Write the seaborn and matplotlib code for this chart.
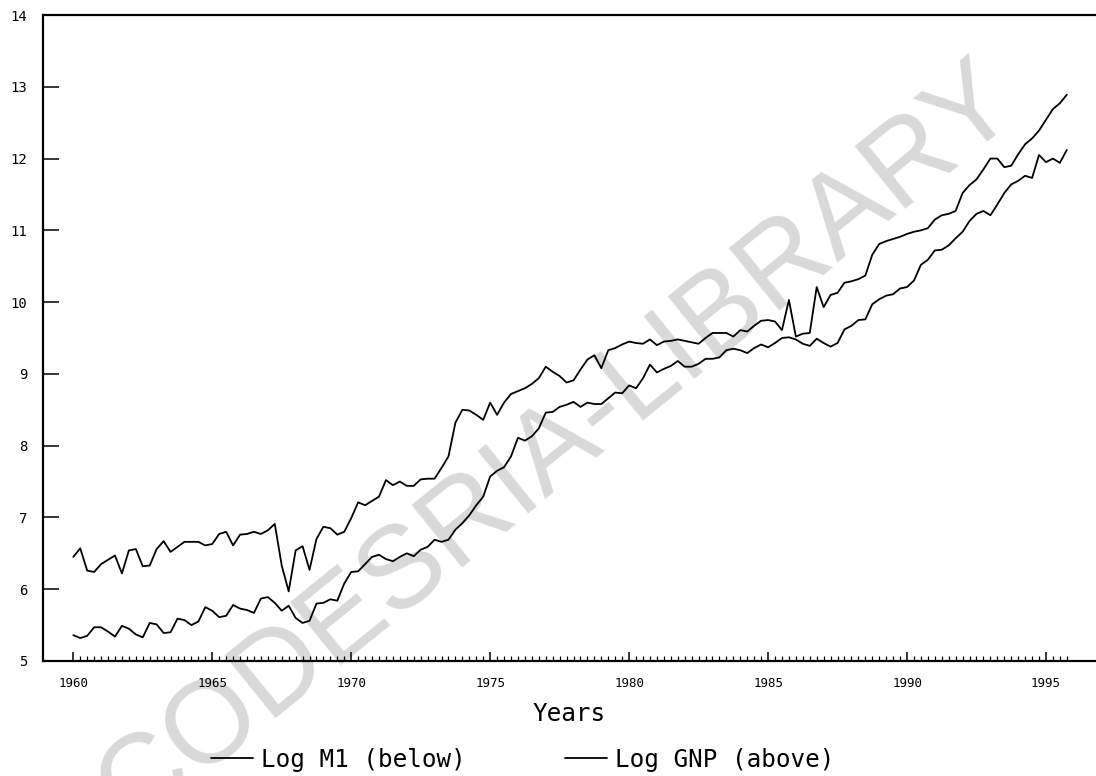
import numpy as np
import pandas as pd
import matplotlib
matplotlib.use("Agg")
import matplotlib.pyplot as plt
import seaborn as sns
from matplotlib.ticker import FixedLocator

# ---- data (quarterly, 1960Q1 .. 1995Q4) ----
quarters = np.arange(1960, 1996, 0.25)

log_gnp = [
    6.45, 6.57, 6.26, 6.24, 6.35, 6.41, 6.47, 6.22, 6.54, 6.56,
    6.32, 6.33, 6.56, 6.67, 6.52, 6.59, 6.66, 6.66, 6.66, 6.61,
    6.63, 6.77, 6.80, 6.61, 6.76, 6.77, 6.80, 6.77, 6.82, 6.91,
    6.33, 5.97, 6.54, 6.60, 6.27, 6.70, 6.87, 6.85, 6.76, 6.80,
    6.99, 7.21, 7.17, 7.23, 7.29, 7.52, 7.45, 7.50, 7.44, 7.44,
    7.53, 7.54, 7.54, 7.69, 7.85, 8.32, 8.50, 8.49, 8.43, 8.36,
    8.60, 8.43, 8.60, 8.72, 8.76, 8.80, 8.86, 8.94, 9.10, 9.03,
    8.97, 8.88, 8.91, 9.06, 9.20, 9.26, 9.08, 9.33, 9.36, 9.41,
    9.45, 9.43, 9.42, 9.48, 9.40, 9.45, 9.46, 9.48, 9.46, 9.44,
    9.42, 9.50, 9.57, 9.57, 9.57, 9.52, 9.61, 9.59, 9.67, 9.74,
    9.75, 9.73, 9.61, 10.03, 9.52, 9.56, 9.57, 10.21, 9.93, 10.10,
    10.13, 10.27, 10.29, 10.32, 10.37, 10.66, 10.81, 10.85, 10.88, 10.91,
    10.95, 10.98, 11.00, 11.03, 11.15, 11.21, 11.23, 11.27, 11.52, 11.63,
    11.71, 11.85, 12.00, 12.00, 11.88, 11.90, 12.06, 12.20, 12.28, 12.39,
    12.54, 12.69, 12.77, 12.89,
]

log_m1 = [
    5.36, 5.32, 5.35, 5.47, 5.47, 5.41, 5.34, 5.49, 5.45, 5.37,
    5.33, 5.53, 5.51, 5.39, 5.40, 5.59, 5.57, 5.50, 5.55, 5.75,
    5.70, 5.61, 5.63, 5.78, 5.73, 5.71, 5.67, 5.87, 5.89, 5.81,
    5.70, 5.77, 5.60, 5.53, 5.56, 5.80, 5.81, 5.86, 5.84, 6.08,
    6.24, 6.25, 6.35, 6.45, 6.48, 6.42, 6.39, 6.45, 6.50, 6.46,
    6.55, 6.59, 6.69, 6.66, 6.69, 6.83, 6.92, 7.03, 7.17, 7.29,
    7.57, 7.65, 7.70, 7.85, 8.11, 8.07, 8.13, 8.24, 8.46, 8.47,
    8.54, 8.57, 8.61, 8.54, 8.60, 8.58, 8.58, 8.66, 8.74, 8.73,
    8.84, 8.80, 8.94, 9.13, 9.02, 9.07, 9.11, 9.18, 9.10, 9.10,
    9.14, 9.21, 9.21, 9.23, 9.33, 9.35, 9.33, 9.29, 9.36, 9.41,
    9.37, 9.43, 9.50, 9.51, 9.48, 9.42, 9.39, 9.49, 9.43, 9.38,
    9.43, 9.62, 9.67, 9.75, 9.76, 9.97, 10.04, 10.09, 10.11, 10.19,
    10.21, 10.30, 10.52, 10.59, 10.72, 10.73, 10.79, 10.89, 10.98, 11.13,
    11.23, 11.27, 11.21, 11.36, 11.52, 11.64, 11.69, 11.76, 11.73, 12.05,
    11.95, 12.00, 11.94, 12.12,
]

series_names = ["Log M1 (below)", "Log GNP (above)"]
x_major_ticks = [1960, 1965, 1970, 1975, 1980, 1985, 1990, 1995]
y_ticks = [5, 6, 7, 8, 9, 10, 11, 12, 13, 14]
x_label = "Years"
watermark = "CODESRIA-LIBRARY"

# ---- style ----
sns.set_theme(style="white")
plt.rcParams['font.family'] = ['DejaVu Sans Mono', 'DejaVu Sans']
plt.rcParams['text.color'] = 'black'
plt.rcParams['axes.labelcolor'] = 'black'
plt.rcParams['xtick.color'] = 'black'
plt.rcParams['ytick.color'] = 'black'

W, H = 1096, 776
fig = plt.figure(figsize=(W / 100, H / 100), dpi=100)
fig.patch.set_facecolor('white')
ax = fig.add_axes([43 / W, (H - 661) / H, 1 - 43 / W, (661 - 15) / H])
ax.set_facecolor('white')

df = pd.DataFrame({'year': quarters,
                   series_names[0]: log_m1,
                   series_names[1]: log_gnp})
long_df = df.melt(id_vars='year', var_name='series', value_name='value')

sns.lineplot(data=long_df, x='year', y='value', hue='series',
             hue_order=series_names, palette=['black', 'black'],
             linewidth=1.3, legend=False, ax=ax, zorder=3)

ax.set_xlim(1958.91, 1996.80)
ax.set_ylim(5, 14)

# spines
for side in ['left', 'bottom', 'top']:
    ax.spines[side].set_visible(True)
    ax.spines[side].set_linewidth(1.6)
    ax.spines[side].set_color('black')
    ax.spines[side].set_zorder(2.5)
ax.spines['right'].set_visible(False)

# ticks
ax.xaxis.set_major_locator(FixedLocator(x_major_ticks))
ax.xaxis.set_minor_locator(FixedLocator([q for q in quarters if q not in x_major_ticks]))
ax.set_xticklabels([str(t) for t in x_major_ticks])
ax.yaxis.set_major_locator(FixedLocator(y_ticks))
ax.set_yticklabels([str(t) for t in y_ticks])

ax.tick_params(axis='x', which='major', direction='in', length=6.5, width=1.1,
               pad=11.5, labelsize=9, bottom=True, top=False)
ax.tick_params(axis='x', which='minor', direction='in', length=3.6, width=0.9,
               bottom=True, top=False)
ax.tick_params(axis='y', which='major', direction='in', length=11.5, width=1.1,
               pad=11.5, labelsize=10, left=True, right=False)
ax.xaxis.set_zorder(2)
ax.yaxis.set_zorder(2)

ax.set_xlabel(x_label, fontsize=17.5)
ax.xaxis.set_label_coords(0.5, -0.0635)
ax.set_ylabel('')

# watermark (behind the data lines, ticks and spines)
ax.text(0.508, 0.425, watermark, transform=fig.transFigure, rotation=39,
        rotation_mode='anchor', ha='center', va='center', fontsize=84,
        color='#d9d9d9', family=['Liberation Sans', 'DejaVu Sans'],
        zorder=0.3, clip_on=False)

# legend
fs = 17.5
em = fs * 100 / 72
fig.legend(handles=ax.lines[:2], labels=series_names, ncol=2,
           loc='center left', bbox_to_anchor=(211 / W, (H - 760) / H),
           frameon=False, fontsize=fs, handlelength=42 / em,
           handletextpad=8 / em, columnspacing=99 / em,
           borderpad=0, borderaxespad=0)

fig.savefig('out.png', dpi=100, facecolor='white')
